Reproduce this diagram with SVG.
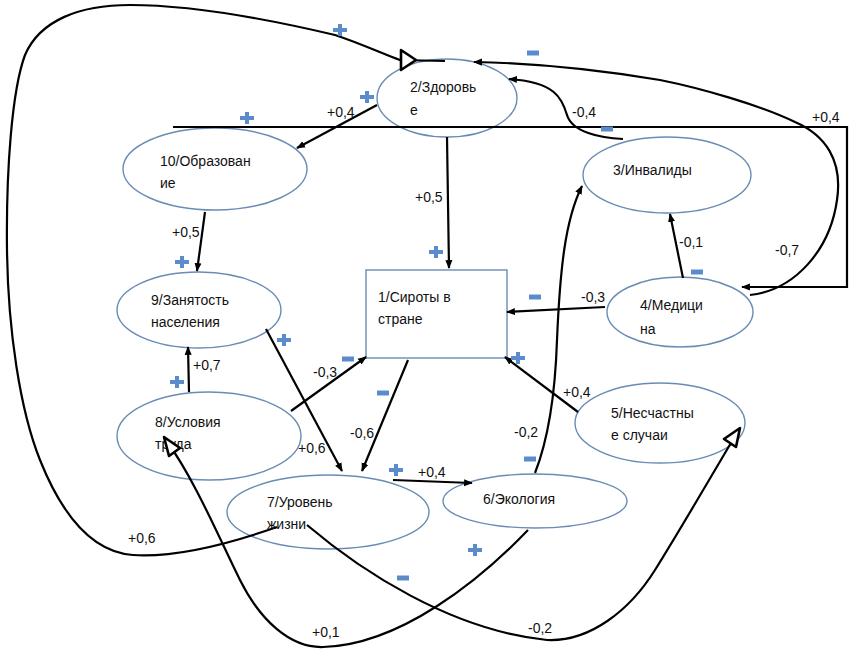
<svg xmlns="http://www.w3.org/2000/svg" xmlns:xlink="http://www.w3.org/1999/xlink" width="856" height="657" viewBox="0 0 856 657">
<style>
.node{fill:#fff;stroke:#6a8cb4;stroke-width:1.4}
.t{font-family:"Liberation Sans",Arial,sans-serif;font-size:14px;fill:#111}
.lbl{font-family:"Liberation Sans",Arial,sans-serif;font-size:14px;fill:#111}
.e{fill:none;stroke:#000;stroke-width:2.2}
.a{marker-end:url(#arr)}
.open{fill:#fff;stroke:#000;stroke-width:2.6;stroke-linejoin:round}
.sg{fill:#5a8ccc}
</style>
<defs>
<marker id="arr" viewBox="0 0 10 10" refX="9" refY="5" markerWidth="4" markerHeight="4" orient="auto" markerUnits="strokeWidth"><path d="M0,1 L10,5 L0,9 z" fill="#000"/></marker>
<path id="plus" d="M-7,-2h14v4h-14z M-2,-6h4v12h-4z"/>
<path id="minus" d="M-6,-2.5h12v5h-12z"/>
</defs>
<rect width="856" height="657" fill="#fff"/>
<g id="nodes">
<g id="n1"><rect class="node" x="366" y="270" width="141" height="88"/><text class="t" x="378" y="302">1/Сироты в</text><text class="t" x="378" y="324">стране</text></g>
<g id="n2"><ellipse class="node" cx="447" cy="98" rx="70" ry="39"/><text class="t" x="410" y="92">2/Здоровь</text><text class="t" x="410" y="115">е</text></g>
<g id="n3"><ellipse class="node" cx="667" cy="175" rx="84" ry="38"/><text class="t" x="613" y="175">3/Инвалиды</text></g>
<g id="n4"><ellipse class="node" cx="680" cy="312" rx="73" ry="35"/><text class="t" x="640" y="310">4/Медици</text><text class="t" x="640" y="334">на</text></g>
<g id="n5"><ellipse class="node" cx="660" cy="423" rx="85" ry="40"/><text class="t" x="611" y="418">5/Несчастны</text><text class="t" x="611" y="440">е случаи</text></g>
<g id="n6"><ellipse class="node" cx="535" cy="501" rx="92" ry="27"/><text class="t" x="483" y="504">6/Экология</text></g>
<g id="n7"><ellipse class="node" cx="328" cy="512" rx="101" ry="37"/><text class="t" x="267" y="507">7/Уровень</text><text class="t" x="267" y="529">жизни</text></g>
<g id="n8"><ellipse class="node" cx="209" cy="436" rx="92" ry="44"/><text class="t" x="155" y="427">8/Условия</text><text class="t" x="155" y="449">труда</text></g>
<g id="n9"><ellipse class="node" cx="199" cy="310" rx="82" ry="38"/><text class="t" x="151" y="305">9/Занятость</text><text class="t" x="151" y="327">населения</text></g>
<g id="n10"><ellipse class="node" cx="215" cy="169" rx="92" ry="41"/><text class="t" x="160" y="166">10/Образован</text><text class="t" x="160" y="188">ие</text></g>
</g>
<g id="connectors">
<path class="e" d="M277,527 C240,540 180,558 133,555 C90,552 60,510 40,460 C20,410 8,330 7,250 C6,170 12,90 25,55 C40,20 80,5 130,5 C200,5 280,22 335,35 C365,45 385,55 400,60 L445,61"/>
<polygon class="open" points="401,50 416,60 401,70"/>
<path class="e a" d="M377,105 L297,148"/>
<path class="e a" stroke-width="2.6" d="M173,127 L847,127 L847,287 L742,287"/>
<path class="e a" d="M750,295 C795,290 830,250 837,200 C843,160 825,135 795,122 C760,105 700,88 660,80 C600,70 530,63 474,62"/>
<path class="e a" d="M623,139 C600,138 572,132 567,115 C562,98 555,82 509,79"/>
<path class="e a" d="M447,137 L449,268"/>
<path class="e a" d="M205,212 L197,271"/>
<path class="e a" d="M683,278 L670,214"/>
<path class="e a" d="M605,307 L507,312"/>
<path class="e a" d="M189,392 L188,347"/>
<path class="e a" d="M266,329 L342,471"/>
<path class="e a" d="M291,411 L366,357"/>
<path class="e a" d="M408,360 L362,471"/>
<path class="e a" d="M393,480 L472,483"/>
<path class="e a" d="M535,473 C548,440 555,400 557,340 C560,270 565,220 582,186"/>
<path class="e a" d="M578,412 L505,357"/>
<path class="e" d="M528,530 C480,580 400,645 323,647 C290,648 260,620 240,580 C220,540 195,480 166,440"/>
<polygon class="open" points="164,437 180,448 169,456"/>
<path class="e" d="M307,525 C360,570 450,630 547,640 C590,642 630,610 655,570 C680,530 715,470 738,431"/>
<polygon class="open" points="740,428 736,447 724,439"/>
<g id="labels">
<text class="lbl" x="327" y="117">+0,4</text>
<text class="lbl" x="812" y="122">+0,4</text>
<text class="lbl" x="572" y="117">-0,4</text>
<text class="lbl" x="415" y="202">+0,5</text>
<text class="lbl" x="172" y="237">+0,5</text>
<text class="lbl" x="679" y="247">-0,1</text>
<text class="lbl" x="775" y="255">-0,7</text>
<text class="lbl" x="581" y="302">-0,3</text>
<text class="lbl" x="193" y="370">+0,7</text>
<text class="lbl" x="313" y="377">-0,3</text>
<text class="lbl" x="298" y="453">+0,6</text>
<text class="lbl" x="350" y="438">-0,6</text>
<text class="lbl" x="418" y="477">+0,4</text>
<text class="lbl" x="514" y="437">-0,2</text>
<text class="lbl" x="563" y="397">+0,4</text>
<text class="lbl" x="128" y="543">+0,6</text>
<text class="lbl" x="312" y="637">+0,1</text>
<text class="lbl" x="528" y="633">-0,2</text>
</g>
<g id="signs" class="sg">
<use xlink:href="#plus" x="340" y="30"/>
<use xlink:href="#plus" x="367" y="97"/>
<use xlink:href="#plus" x="247" y="118"/>
<use xlink:href="#plus" x="436" y="252"/>
<use xlink:href="#plus" x="182" y="262"/>
<use xlink:href="#plus" x="284" y="340"/>
<use xlink:href="#plus" x="177" y="382"/>
<use xlink:href="#plus" x="396" y="470"/>
<use xlink:href="#plus" x="518" y="358"/>
<use xlink:href="#plus" x="475" y="550"/>
<use xlink:href="#minus" x="533" y="53"/>
<use xlink:href="#minus" x="607" y="129"/>
<use xlink:href="#minus" x="697" y="272"/>
<use xlink:href="#minus" x="535" y="297"/>
<use xlink:href="#minus" x="348" y="359"/>
<use xlink:href="#minus" x="383" y="393"/>
<use xlink:href="#minus" x="530" y="459"/>
<use xlink:href="#minus" x="403" y="578"/>
</g>
</g>
</svg>
